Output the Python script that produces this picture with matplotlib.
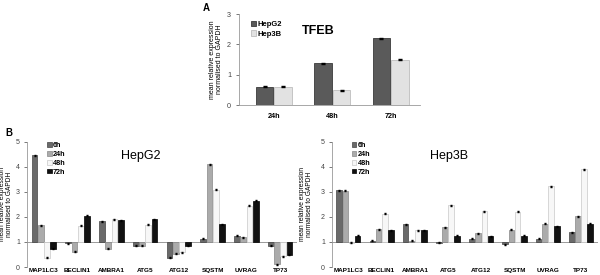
import matplotlib
matplotlib.use("Agg")
import matplotlib.pyplot as plt
import numpy as np

# Panel A data
a_times = ["24h", "48h", "72h"]
a_hepg2 = [0.60, 1.37, 2.20]
a_hep3b = [0.60, 0.48, 1.50]

# Panel B data
genes = ["MAP1LC3", "BECLIN1", "AMBRA1", "ATG5", "ATG12", "SQSTM", "UVRAG", "TP73"]
b_times = ["6h", "24h", "48h", "72h"]
hepg2_6h  = [4.47, 0.95, 1.83, 0.85, 0.38, 1.12, 1.25, 0.85]
hepg2_24h = [1.66, 0.62, 0.74, 0.85, 0.54, 4.10, 1.18, 0.12]
hepg2_48h = [0.38, 1.65, 1.90, 1.68, 0.60, 3.08, 2.44, 0.44]
hepg2_72h = [0.74, 2.05, 1.87, 1.90, 0.86, 1.70, 2.65, 0.50]
hep3b_6h  = [3.07, 1.05, 1.70, 0.98, 1.12, 0.92, 1.12, 1.38]
hep3b_24h = [3.05, 1.50, 1.05, 1.58, 1.35, 1.48, 1.72, 2.02]
hep3b_48h = [0.97, 2.13, 1.46, 2.47, 2.23, 2.20, 3.22, 3.90]
hep3b_72h = [1.25, 1.46, 1.46, 1.25, 1.22, 1.25, 1.62, 1.72]

ylab = "mean relative expression\nnormalised to GAPDH"

plt.rcParams['font.family'] = ['Liberation Sans', 'DejaVu Sans']
fig = plt.figure(figsize=(6, 2.75), dpi=100)

# ---------- Panel A ----------
axA = fig.add_axes([0.398, 0.618, 0.302, 0.331])
x = np.arange(len(a_times))
w = 0.3
axA.bar(x - w/2 - 0.01, a_hepg2, w, color="#5a5a5a", edgecolor="#3a3a3a", linewidth=0.6, label="HepG2")
axA.bar(x + w/2 + 0.01, a_hep3b, w, color="#e2e2e2", edgecolor="#bdbdbd", linewidth=0.6, label="Hep3B")
axA.errorbar(x - w/2 - 0.01, a_hepg2, yerr=0.02, fmt="none", ecolor="black", elinewidth=0.6, capsize=1.5)
axA.errorbar(x + w/2 + 0.01, a_hep3b, yerr=0.02, fmt="none", ecolor="black", elinewidth=0.6, capsize=1.5)
axA.set_xlim(-0.6, 2.5)
axA.set_ylim(0, 3)
axA.set_yticks([0, 1, 2, 3])
axA.set_xticks(x)
axA.set_xticklabels(a_times, fontsize=5.2, fontweight="bold")
axA.tick_params(axis="y", labelsize=5.2, length=2, colors="#444444", width=0.5)
axA.tick_params(axis="x", length=0, pad=6)
for s in ["top", "right"]:
    axA.spines[s].set_visible(False)
for s in ["left", "bottom"]:
    axA.spines[s].set_color("#999999")
    axA.spines[s].set_linewidth(0.6)
axA.set_ylabel(ylab, fontsize=5, linespacing=1.0)
axA.yaxis.set_label_coords(-0.088, 0.5)
axA.text(0.35, 0.78, "TFEB", transform=axA.transAxes, fontsize=9, fontweight="bold")
axA.legend(loc="upper left", bbox_to_anchor=(0.05, 0.96), frameon=False,
           prop={"weight": "bold", "size": 5.5}, handlelength=0.7, handleheight=0.7,
           handletextpad=0.2, labelspacing=0.3, borderaxespad=0)
fig.text(203/600, 1 - 8/275, "A", fontsize=7, fontweight="bold", va="center")
fig.text(5/600, 1 - 133/275, "B", fontsize=7, fontweight="bold", va="center")

# ---------- Panel B ----------
colors = ["#6a6a6a", "#ababab", "#f7f7f7", "#111111"]
edges = ["#444444", "#888888", "#c8c8c8", "#000000"]


def panel(ax, series, title, tx, labx):
    n = len(genes)
    xg = np.arange(n)
    bw = 0.17
    for i, (vals, c, e, lab) in enumerate(zip(series, colors, edges, b_times)):
        v = np.array(vals)
        pos = xg + (i - 1.5) * (bw + 0.015)
        ax.bar(pos, v - 1, bw, bottom=1, color=c, edgecolor=e, linewidth=0.5, label=lab)
        ax.errorbar(pos, v, yerr=0.02, fmt="none", ecolor="black", elinewidth=0.5, capsize=1)
    ax.axhline(1, color="#999999", linewidth=0.7, zorder=0)
    ax.set_xlim(-0.5, n - 0.5)
    ax.set_ylim(0, 5)
    ax.set_yticks([0, 1, 2, 3, 4, 5])
    ax.set_xticks(xg)
    ax.set_xticklabels(genes, fontsize=4.6, fontweight="bold")
    ax.tick_params(axis="x", length=0, pad=1)
    ax.tick_params(axis="y", labelsize=5, length=2, colors="#444444", width=0.5, pad=3)
    for s in ["top", "right", "bottom"]:
        ax.spines[s].set_visible(False)
    ax.spines["left"].set_color("#999999")
    ax.spines["left"].set_linewidth(0.6)
    ax.set_ylabel(ylab, fontsize=4.8, linespacing=1.0)
    ax.yaxis.set_label_coords(labx, 0.5)
    ax.text(tx, 0.86, title, transform=ax.transAxes, fontsize=9)
    ax.legend(loc="upper left", bbox_to_anchor=(0.065, 1.02), frameon=False,
              prop={"weight": "bold", "size": 5.2}, handlelength=0.6, handleheight=0.6,
              handletextpad=0.2, labelspacing=0.25, borderaxespad=0)


ax1 = fig.add_axes([0.045, 0.029, 0.45, 0.455])
panel(ax1, [hepg2_6h, hepg2_24h, hepg2_48h, hepg2_72h], "HepG2", 0.35, -0.052)
ax2 = fig.add_axes([0.553, 0.029, 0.443, 0.455])
panel(ax2, [hep3b_6h, hep3b_24h, hep3b_48h, hep3b_72h], "Hep3B", 0.37, -0.07)

fig.savefig("out.png", dpi=100)
